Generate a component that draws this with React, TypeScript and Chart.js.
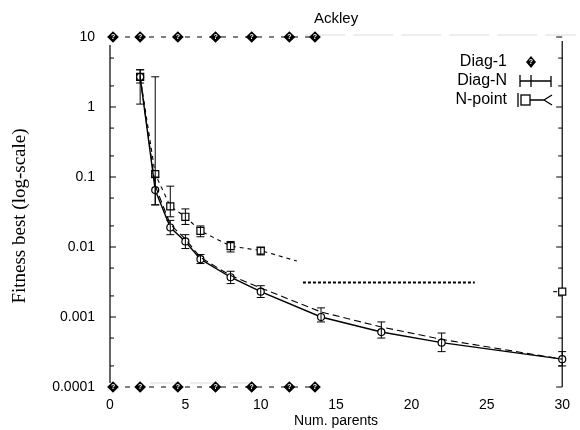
import React, { useEffect, useRef } from "react";
import { Chart, registerables } from "chart.js";
Chart.register(...registerables);

// ---- data ----
const chartTitle = "Ackley";
const xTitle = "Num. parents";
const yTitle = "Fitness best (log-scale)";
const xTickValues = [0, 5, 10, 15, 20, 25, 30];
const yTickValues = [0.0001, 0.001, 0.01, 0.1, 1, 10];
const yTickLabels = ["0.0001", "0.001", "0.01", "0.1", "1", "10"];

// Diag-1 marker rows (top and bottom borders)
const diag1X = [0.2, 2, 4.5, 7, 9.4, 11.9, 13.6];
const diag1TopY = [10, 10, 10, 10, 10, 10, 10];
const diag1BottomY = [0.0001, 0.0001, 0.0001, 0.0001, 0.0001, 0.0001, 0.0001];

// dashed curve close to Diag-N
const companionX = [2, 3, 4, 5, 6, 8, 10, 14, 18, 22, 30];
const companionY = [2.7, 0.075, 0.021, 0.013, 0.0071, 0.0039, 0.0026, 0.00118, 0.00072, 0.00048, 0.00025];

// Diag-N (solid)
const diagNX = [2, 3, 4, 5, 6, 8, 10, 14, 18, 22, 30];
const diagNY = [2.7, 0.065, 0.019, 0.012, 0.0067, 0.0037, 0.0023, 0.001, 0.00061, 0.00043, 0.00025];
const diagNLow = [1.1, 0.04, 0.015, 0.0095, 0.0058, 0.003, 0.0019, 0.00085, 0.0005, 0.00032, 0.0002];
const diagNHigh = [3.4, 0.1, 0.024, 0.015, 0.0078, 0.0045, 0.0028, 0.00135, 0.00085, 0.00059, 0.00032];

// N-point (dashed, squares)
const nPointX = [2, 3, 4, 5, 6, 8, 10, 12.4];
const nPointY = [2.7, 0.11, 0.038, 0.027, 0.017, 0.0103, 0.0089, 0.0063];
const nPointLow = [2.2, 0.04, 0.027, 0.021, 0.014, 0.0085, 0.0077, null];
const nPointHigh = [3.4, 2.7, 0.074, 0.035, 0.02, 0.012, 0.0098, null];
const nPointTailX = [12.8, 24.2];
const nPointTailY = [0.0031, 0.0031];
const nPointEndX = [29.4, 30];
const nPointEndY = [0.0023, 0.0023];

const FONT = "'Liberation Sans', Arial, sans-serif";
const SERIF = "'Liberation Serif', 'Times New Roman', serif";

function pts(xs: number[], ys: number[]) {
  return xs.map((x, i) => ({ x, y: ys[i] }));
}

const errorBarPlugin = {
  id: "errorBars",
  afterDatasetsDraw(chart: any) {
    const ctx = chart.ctx;
    const xs = chart.scales.x;
    const ys = chart.scales.y;
    chart.data.datasets.forEach((ds: any, di: number) => {
      if (ds.qmarks) {
        const meta = chart.getDatasetMeta(di);
        ctx.save();
        ctx.fillStyle = "#fff";
        ctx.font = `bold 7px ${FONT}`;
        ctx.textAlign = "center";
        ctx.textBaseline = "middle";
        meta.data.forEach((el: any) => ctx.fillText("?", el.x, el.y + 0.5));
        ctx.restore();
      }
      if (!ds.errLow) return;
      ctx.save();
      ctx.strokeStyle = "#000";
      ctx.lineWidth = 1;
      ds.data.forEach((p: any, i: number) => {
        const lo = ds.errLow[i];
        const hi = ds.errHigh[i];
        if (lo == null || hi == null) return;
        const px = xs.getPixelForValue(p.x);
        const y1 = ys.getPixelForValue(lo);
        const y2 = ys.getPixelForValue(hi);
        ctx.beginPath();
        ctx.moveTo(px, y1);
        ctx.lineTo(px, y2);
        ctx.moveTo(px - 4, y1);
        ctx.lineTo(px + 4, y1);
        ctx.moveTo(px - 4, y2);
        ctx.lineTo(px + 4, y2);
        ctx.stroke();
      });
      ctx.restore();
    });
  },
};

const decorPlugin = {
  id: "decor",
  beforeDatasetsDraw(chart: any) {
    const ctx = chart.ctx;
    const a = chart.chartArea;
    const ys = chart.scales.y;
    ctx.save();
    // faint grey border remnants
    ctx.strokeStyle = "#dcdcdc";
    ctx.lineWidth = 1;
    ctx.setLineDash([40, 8]);
    ctx.beginPath();
    ctx.moveTo(305, a.top - 2);
    ctx.lineTo(576, a.top - 2);
    ctx.stroke();
    ctx.setLineDash([30, 10]);
    ctx.beginPath();
    ctx.moveTo(150, a.bottom - 4);
    ctx.lineTo(250, a.bottom - 4);
    ctx.stroke();
    ctx.setLineDash([]);
    // axes
    ctx.strokeStyle = "#000";
    ctx.lineWidth = 1.2;
    ctx.beginPath();
    ctx.moveTo(a.left, a.top + 8);
    ctx.lineTo(a.left, a.bottom - 4);
    ctx.moveTo(a.right, a.top + 4);
    ctx.lineTo(a.right, a.bottom);
    ctx.stroke();
    // inward ticks
    ctx.lineWidth = 1;
    ctx.beginPath();
    for (let d = -4; d <= 1; d++) {
      for (const m of [1, 2, 5]) {
        const v = m * Math.pow(10, d);
        if (v < 0.0001 || v > 10) continue;
        const py = ys.getPixelForValue(v);
        const len = m === 1 ? 6 : 4;
        ctx.moveTo(a.left, py);
        ctx.lineTo(a.left + len, py);
        ctx.moveTo(a.right, py);
        ctx.lineTo(a.right - len, py);
      }
    }
    ctx.stroke();
    ctx.restore();
  },
  afterDraw(chart: any) {
    const ctx = chart.ctx;
    const a = chart.chartArea;
    ctx.save();
    ctx.fillStyle = "#000";
    ctx.textAlign = "center";
    ctx.textBaseline = "middle";
    ctx.font = `15px ${FONT}`;
    ctx.fillText(chartTitle, (a.left + a.right) / 2, 19);
    ctx.font = `14px ${FONT}`;
    ctx.fillText(xTitle, (a.left + a.right) / 2, 421);
    ctx.save();
    ctx.translate(20, 216);
    ctx.rotate(-Math.PI / 2);
    ctx.font = `19px ${SERIF}`;
    ctx.fillText(yTitle, 0, 0);
    ctx.restore();
    // legend
    ctx.font = `16px ${FONT}`;
    ctx.textAlign = "right";
    const lx = 507;
    const rows = [62, 81, 100];
    ctx.fillText("Diag-1", lx, rows[0]);
    ctx.fillText("Diag-N", lx, rows[1]);
    ctx.fillText("N-point", lx, rows[2]);
    // diamond
    ctx.beginPath();
    ctx.moveTo(531, rows[0] - 6);
    ctx.lineTo(536, rows[0]);
    ctx.lineTo(531, rows[0] + 6);
    ctx.lineTo(526, rows[0]);
    ctx.closePath();
    ctx.fill();
    ctx.fillStyle = "#fff";
    ctx.font = `bold 7px ${FONT}`;
    ctx.textAlign = "center";
    ctx.fillText("?", 531, rows[0] + 0.5);
    ctx.fillStyle = "#000";
    ctx.strokeStyle = "#000";
    ctx.lineWidth = 1.3;
    // Diag-N symbol
    ctx.beginPath();
    ctx.moveTo(520, rows[1]);
    ctx.lineTo(551, rows[1]);
    ctx.moveTo(520, rows[1] - 6);
    ctx.lineTo(520, rows[1] + 6);
    ctx.moveTo(531, rows[1] - 6);
    ctx.lineTo(531, rows[1] + 6);
    ctx.moveTo(551, rows[1] - 5);
    ctx.lineTo(551, rows[1] + 6);
    ctx.stroke();
    // N-point symbol
    ctx.beginPath();
    ctx.moveTo(518, rows[2] - 7);
    ctx.lineTo(518, rows[2] + 7);
    ctx.strokeRect(521, rows[2] - 5, 9, 10);
    ctx.moveTo(530, rows[2]);
    ctx.lineTo(544, rows[2]);
    ctx.moveTo(552, rows[2] - 5);
    ctx.lineTo(544, rows[2]);
    ctx.lineTo(552, rows[2] + 5);
    ctx.stroke();
    ctx.restore();
  },
};

export default function App() {
  const ref = useRef<HTMLCanvasElement | null>(null);
  useEffect(() => {
    if (!ref.current) return;
    const nData: any[] = [
      ...pts(nPointX, nPointY),
      { x: 12.6, y: null },
      ...pts(nPointTailX, nPointTailY),
      { x: 27, y: null },
      ...pts(nPointEndX, nPointEndY),
    ];
    const nRadius = nData.map((p: any) =>
      (p.x <= 10 && Number.isInteger(p.x)) || p.x === 30 ? 5 : 0
    );
    const nLow = [...nPointLow, null, null, null, null, null, null];
    const nHigh = [...nPointHigh, null, null, null, null, null, null];
    const diamond = {
      borderColor: "#000",
      borderWidth: 1.2,
      borderDash: [5, 7],
      pointStyle: "rectRot",
      pointRadius: 5,
      pointBackgroundColor: "#000",
      pointBorderColor: "#000",
      clip: false,
      qmarks: true,
    };
    const chart = new Chart(ref.current, {
      type: "line",
      data: {
        datasets: [
          { label: "Diag-1", data: pts(diag1X, diag1TopY), ...diamond } as any,
          { label: "Diag-1 bottom", data: pts(diag1X, diag1BottomY), ...diamond } as any,
          {
            label: "companion",
            data: pts(companionX, companionY),
            borderColor: "#000",
            borderWidth: 1.1,
            borderDash: [7, 4],
            pointRadius: 0,
          } as any,
          {
            label: "Diag-N",
            data: pts(diagNX, diagNY),
            borderColor: "#000",
            borderWidth: 1.4,
            pointStyle: "circle",
            pointRadius: 3.5,
            pointBackgroundColor: "#fff",
            pointBorderColor: "#000",
            pointBorderWidth: 1.2,
            errLow: diagNLow,
            errHigh: diagNHigh,
            clip: false,
          } as any,
          {
            label: "N-point",
            data: nData,
            borderColor: "#000",
            borderWidth: 1.1,
            borderDash: [4, 4],
            spanGaps: false,
            pointStyle: "rect",
            pointRadius: nRadius,
            pointBackgroundColor: "#fff",
            pointBorderColor: "#000",
            pointBorderWidth: 1.2,
            segment: {
              borderDash: (c: any) => (c.p0.parsed.x >= 12.7 && c.p0.parsed.x < 25 ? [3, 2] : [4, 4]),
              borderWidth: (c: any) => (c.p0.parsed.x >= 12.7 && c.p0.parsed.x < 25 ? 2 : 1.1),
            },
            errLow: nLow,
            errHigh: nHigh,
            clip: false,
          } as any,
        ],
      },
      options: {
        responsive: false,
        animation: false,
        layout: { padding: { top: 37, right: 12, left: 0, bottom: 0 } },
        plugins: { legend: { display: false }, tooltip: { enabled: false }, title: { display: false } },
        elements: { line: { tension: 0 } },
        scales: {
          x: {
            type: "linear",
            min: 0,
            max: 30,
            grid: { display: false, drawTicks: false },
            border: { display: false },
            afterBuildTicks: (s: any) => {
              s.ticks = xTickValues.map((v) => ({ value: v }));
            },
            afterFit: (s: any) => {
              s.height = 43;
            },
            ticks: {
              color: "#000",
              font: { family: FONT, size: 14 },
              padding: 10,
              maxRotation: 0,
              callback: (v: any) => String(v),
            },
          },
          y: {
            type: "logarithmic",
            min: 0.0001,
            max: 10,
            grid: { display: false, drawTicks: false },
            border: { display: false },
            afterBuildTicks: (s: any) => {
              s.ticks = yTickValues.map((v) => ({ value: v, major: true }));
            },
            afterFit: (s: any) => {
              s.width = 110;
            },
            ticks: {
              color: "#000",
              font: { family: FONT, size: 14 },
              padding: 15,
              callback: (v: any) => {
                const i = yTickValues.findIndex((t) => Math.abs(Math.log10(t) - Math.log10(v)) < 1e-6);
                return i >= 0 ? yTickLabels[i] : "";
              },
            },
          },
        },
      },
      plugins: [decorPlugin, errorBarPlugin],
    } as any);
    return () => chart.destroy();
  }, []);
  return (
    <div style={{ position: "absolute", left: 0, top: 0, width: 580, height: 430, background: "#fff" }}>
      <canvas ref={ref} width={580} height={430} style={{ width: 580, height: 430 }} />
    </div>
  );
}
